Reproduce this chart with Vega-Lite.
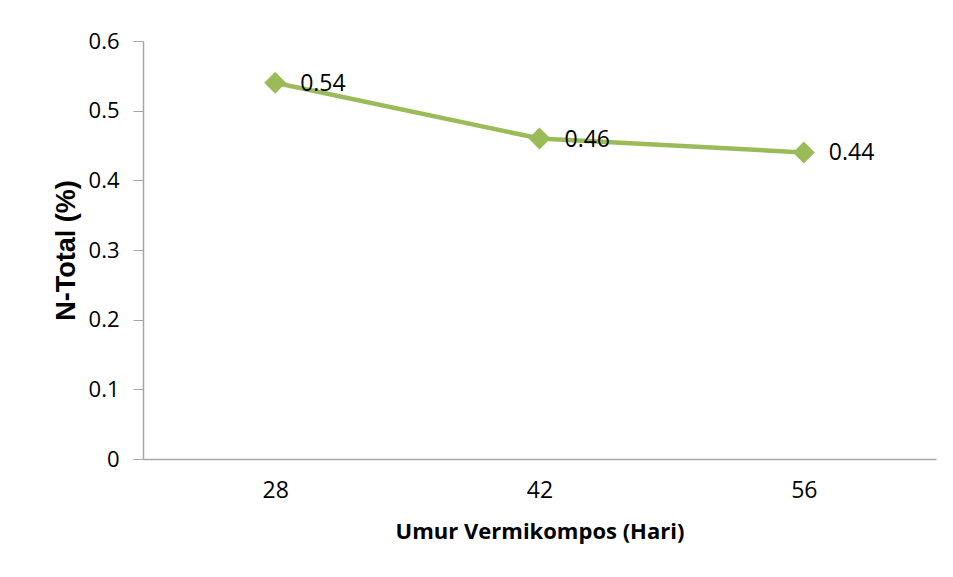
{
  "$schema": "https://vega.github.io/schema/vega-lite/v6.json",
  "width": 793,
  "height": 418,
  "autosize": "none",
  "padding": {"left": 143, "top": 41, "right": 17, "bottom": 118},
  "background": "white",
  "config": {
    "view": {"stroke": null},
    "font": "Open Sans"
  },
  "data": {
    "values": [
      {"hari": "28", "n": 0.54},
      {"hari": "42", "n": 0.46},
      {"hari": "56", "n": 0.44}
    ]
  },
  "encoding": {
    "x": {
      "field": "hari",
      "type": "ordinal",
      "sort": null,
      "scale": {"type": "point", "padding": 0.5},
      "axis": {
        "title": "Umur Vermikompos (Hari)",
        "titleFont": "Open Sans",
        "titleFontSize": 22,
        "titleFontWeight": "bold",
        "titleColor": "#000000",
        "titlePadding": 19,
        "labelAngle": 0,
        "labelFont": "Open Sans",
        "labelFontSize": 23,
        "labelColor": "#000000",
        "labelPadding": 20,
        "ticks": false,
        "domainColor": "#a6a6a6",
        "domainWidth": 1.5,
        "grid": false
      }
    },
    "y": {
      "field": "n",
      "type": "quantitative",
      "scale": {"domain": [0, 0.6], "nice": false},
      "axis": {
        "title": "N-Total (%)",
        "titleFont": "Liberation Sans",
        "titleFontSize": 27,
        "titleFontWeight": "bold",
        "titleColor": "#000000",
        "titlePadding": 8,
        "values": [0, 0.1, 0.2, 0.3, 0.4, 0.5, 0.6],
        "format": ".1~f",
        "labelFont": "Open Sans",
        "labelFontSize": 22,
        "labelColor": "#000000",
        "labelPadding": 14,
        "tickSize": 10,
        "tickColor": "#a6a6a6",
        "domainColor": "#a6a6a6",
        "domainWidth": 1.5,
        "grid": false
      }
    }
  },
  "layer": [
    {
      "mark": {"type": "line", "color": "#9BBB59", "strokeWidth": 4.5}
    },
    {
      "mark": {"type": "point", "shape": "diamond", "filled": true, "size": 480, "color": "#9BBB59", "opacity": 1}
    },
    {
      "mark": {"type": "text", "align": "left", "baseline": "middle", "dx": 25, "dy": 1, "fontSize": 23, "font": "Open Sans", "color": "#000000"},
      "encoding": {"text": {"field": "n", "type": "quantitative", "format": ".2f"}}
    }
  ]
}
